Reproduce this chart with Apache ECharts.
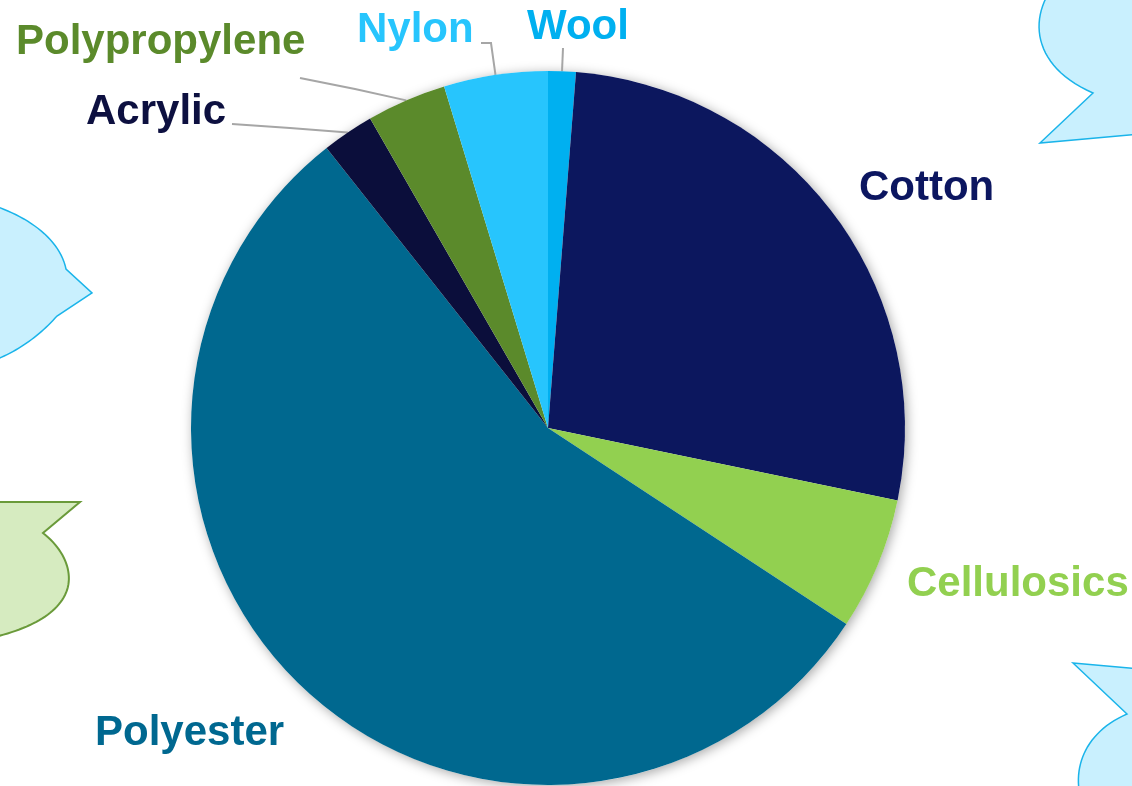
<!DOCTYPE html>
<html>
<head>
<meta charset="utf-8">
<script src="https://cdn.jsdelivr.net/npm/echarts@6/dist/echarts.min.js"></script>
<style>html,body{margin:0;padding:0;background:#fff;}#c{width:1132px;height:786px;}</style>
</head>
<body>
<div id="c"></div>
<script>
// Data (percent share of fibre production)
var categories = ['Wool', 'Cotton', 'Cellulosics', 'Polyester', 'Acrylic', 'Polypropylene', 'Nylon'];
var values = [1.25, 27.0, 6.0, 55.1, 2.35, 3.6, 4.7];
var colors = ['#00b0f0', '#0c175e', '#92d050', '#00688f', '#0b0e3b', '#5b8a2b', '#27c5fd'];
var labelColors = ['#00b0f0', '#0c1660', '#92d050', '#006890', '#0d1040', '#5b8a2b', '#27c5fd'];
var showLine = [true, false, false, false, true, true, true];

// Label placement (left x, middle y) and label line ends
var labelPos = [[527, 27], [859, 188], [907, 584], [95, 733], [86, 112], [16, 42], [357, 30]];
var lineBend = [[563, 48], null, null, null, [290, 128], [355, 89], [491, 43]];
var lineEnd = [[563, 48], null, null, null, [232, 124], [300, 78], [481, 43]];

var chart = echarts.init(document.getElementById('c'));

var pieData = categories.map(function (n, i) {
  return {
    name: n,
    value: values[i],
    itemStyle: { color: colors[i] },
    label: { color: labelColors[i] },
    labelLine: { show: showLine[i] }
  };
});

// Decorative background shapes: path segments -> polygon points
function pathPoints(segs) {
  var pts = [], cur = null;
  segs.forEach(function (s) {
    if (s[0] === 'M' || s[0] === 'L') { cur = [s[1], s[2]]; pts.push(cur); }
    else if (s[0] === 'C') {
      var p0 = cur, p1 = [s[1], s[2]], p2 = [s[3], s[4]], p3 = [s[5], s[6]];
      for (var k = 1; k <= 24; k++) {
        var t = k / 24, u = 1 - t;
        pts.push([
          u*u*u*p0[0] + 3*u*u*t*p1[0] + 3*u*t*t*p2[0] + t*t*t*p3[0],
          u*u*u*p0[1] + 3*u*u*t*p1[1] + 3*u*t*t*p2[1] + t*t*t*p3[1]
        ]);
      }
      cur = p3;
    }
  });
  return pts;
}
function shape(segs, fill, stroke, w) {
  return { type: 'polygon', silent: true, z: 0, shape: { points: pathPoints(segs) },
    style: { fill: fill, stroke: stroke, lineWidth: w } };
}

chart.setOption({
  animation: false,
  backgroundColor: '#ffffff',
  graphic: [
    shape([['M',1046,-2],['C',1030,30,1040,70,1093,93],['L',1040,143],['L',1140,134],['L',1140,-2]], '#c9f0fe', '#1ab4ea', 1.5),
    shape([['M',-5,206],['C',30,218,60,240,66,269],['L',92,293],['L',57,316],['C',40,335,20,350,-5,360]], '#c9f0fe', '#1ab4ea', 1.5),
    shape([['M',-5,502],['L',80,502],['L',43,533],['C',65,550,75,575,65,595],['C',55,615,30,628,-5,637]], '#d6ebc0', '#6a9a3a', 2),
    shape([['M',1073,663],['L',1140,669],['L',1140,790],['L',1079,790],['C',1075,760,1090,730,1127,714]], '#c9f0fe', '#1ab4ea', 1.5)
  ],
  series: [
    {
      type: 'pie',
      silent: true,
      z: 1,
      center: [548, 428],
      radius: 357,
      label: { show: false },
      labelLine: { show: false },
      itemStyle: { color: '#ffffff', shadowBlur: 12, shadowColor: 'rgba(0,0,0,0.35)', shadowOffsetX: 2, shadowOffsetY: 2 },
      data: [{ value: 1, name: 'shadow' }]
    },
    {
      type: 'pie',
      z: 2,
      center: [548, 428],
      radius: 357,
      startAngle: 90,
      clockwise: true,
      avoidLabelOverlap: false,
      label: {
        show: true,
        position: 'outside',
        formatter: '{b}',
        fontFamily: 'Liberation Sans, Arial, sans-serif',
        fontWeight: 'bold',
        fontSize: 42
      },
      labelLine: { show: true, length: 10, length2: 10, lineStyle: { color: '#a6a6a6', width: 2 } },
      labelLayout: function (p) {
        var i = p.dataIndex;
        var res = { x: labelPos[i][0], y: labelPos[i][1], align: 'left', verticalAlign: 'middle' };
        if (lineEnd[i] && p.labelLinePoints) {
          res.labelLinePoints = [p.labelLinePoints[0], lineBend[i], lineEnd[i]];
        }
        return res;
      },
      data: pieData
    }
  ]
});
</script>
</body>
</html>
